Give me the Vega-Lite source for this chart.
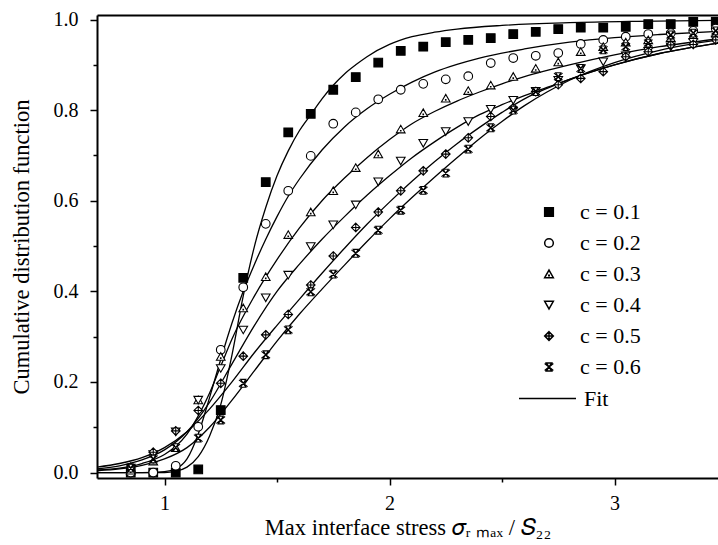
{
 "$schema": "https://vega.github.io/schema/vega-lite/v6.json",
 "width": 621,
 "height": 463,
 "autosize": {"type": "none"},
 "padding": {"left": 97, "top": 15, "right": 0, "bottom": 67},
 "background": "white",
 "config": {
  "font": "Liberation Serif",
  "view": {"stroke": null},
  "axis": {"domainColor": "black", "domainWidth": 2, "tickColor": "black", "tickWidth": 1.5, "labelColor": "black", "titleColor": "black", "labelFont": "Liberation Serif", "titleFont": "Liberation Serif", "labelFontSize": 20, "titleFontSize": 22.5, "titleFontWeight": "normal", "grid": false},
  "legend": {"labelFont": "Liberation Serif", "labelFontSize": 22, "labelColor": "black"}
 },
 "datasets": {
  "pts": [
   {"c":"0.1","x":0.85,"y":0},{"c":"0.1","x":0.95,"y":0},{"c":"0.1","x":1.05,"y":0},{"c":"0.1","x":1.15,"y":0.007},{"c":"0.1","x":1.25,"y":0.138},{"c":"0.1","x":1.35,"y":0.43},{"c":"0.1","x":1.45,"y":0.641},{"c":"0.1","x":1.55,"y":0.751},{"c":"0.1","x":1.65,"y":0.792},{"c":"0.1","x":1.75,"y":0.845},{"c":"0.1","x":1.85,"y":0.873},{"c":"0.1","x":1.95,"y":0.905},{"c":"0.1","x":2.05,"y":0.931},{"c":"0.1","x":2.15,"y":0.94},{"c":"0.1","x":2.25,"y":0.95},{"c":"0.1","x":2.35,"y":0.955},{"c":"0.1","x":2.45,"y":0.959},{"c":"0.1","x":2.55,"y":0.968},{"c":"0.1","x":2.65,"y":0.973},{"c":"0.1","x":2.75,"y":0.979},{"c":"0.1","x":2.85,"y":0.982},{"c":"0.1","x":2.95,"y":0.982},{"c":"0.1","x":3.05,"y":0.984},{"c":"0.1","x":3.15,"y":0.99},{"c":"0.1","x":3.25,"y":0.99},{"c":"0.1","x":3.35,"y":0.995},{"c":"0.1","x":3.45,"y":0.995},
   {"c":"0.2","x":0.85,"y":0},{"c":"0.2","x":0.95,"y":0},{"c":"0.2","x":1.05,"y":0.015},{"c":"0.2","x":1.15,"y":0.101},{"c":"0.2","x":1.25,"y":0.271},{"c":"0.2","x":1.35,"y":0.409},{"c":"0.2","x":1.45,"y":0.549},{"c":"0.2","x":1.55,"y":0.622},{"c":"0.2","x":1.65,"y":0.699},{"c":"0.2","x":1.75,"y":0.77},{"c":"0.2","x":1.85,"y":0.795},{"c":"0.2","x":1.95,"y":0.824},{"c":"0.2","x":2.05,"y":0.845},{"c":"0.2","x":2.15,"y":0.858},{"c":"0.2","x":2.25,"y":0.868},{"c":"0.2","x":2.35,"y":0.875},{"c":"0.2","x":2.45,"y":0.904},{"c":"0.2","x":2.55,"y":0.915},{"c":"0.2","x":2.65,"y":0.92},{"c":"0.2","x":2.75,"y":0.926},{"c":"0.2","x":2.85,"y":0.946},{"c":"0.2","x":2.95,"y":0.955},{"c":"0.2","x":3.05,"y":0.962},{"c":"0.2","x":3.15,"y":0.968},{"c":"0.2","x":3.25,"y":0.97},{"c":"0.2","x":3.35,"y":0.975},{"c":"0.2","x":3.45,"y":0.98},
   {"c":"0.3","x":0.85,"y":0.005},{"c":"0.3","x":0.95,"y":0.025},{"c":"0.3","x":1.05,"y":0.055},{"c":"0.3","x":1.15,"y":0.16},{"c":"0.3","x":1.25,"y":0.256},{"c":"0.3","x":1.35,"y":0.363},{"c":"0.3","x":1.45,"y":0.432},{"c":"0.3","x":1.55,"y":0.525},{"c":"0.3","x":1.65,"y":0.575},{"c":"0.3","x":1.75,"y":0.622},{"c":"0.3","x":1.85,"y":0.673},{"c":"0.3","x":1.95,"y":0.703},{"c":"0.3","x":2.05,"y":0.758},{"c":"0.3","x":2.15,"y":0.794},{"c":"0.3","x":2.25,"y":0.826},{"c":"0.3","x":2.35,"y":0.843},{"c":"0.3","x":2.45,"y":0.855},{"c":"0.3","x":2.55,"y":0.874},{"c":"0.3","x":2.65,"y":0.892},{"c":"0.3","x":2.75,"y":0.906},{"c":"0.3","x":2.85,"y":0.929},{"c":"0.3","x":2.95,"y":0.94},{"c":"0.3","x":3.05,"y":0.95},{"c":"0.3","x":3.15,"y":0.955},{"c":"0.3","x":3.25,"y":0.96},{"c":"0.3","x":3.35,"y":0.965},{"c":"0.3","x":3.45,"y":0.97},
   {"c":"0.4","x":0.85,"y":0.01},{"c":"0.4","x":0.95,"y":0.04},{"c":"0.4","x":1.05,"y":0.09},{"c":"0.4","x":1.15,"y":0.16},{"c":"0.4","x":1.25,"y":0.23},{"c":"0.4","x":1.35,"y":0.315},{"c":"0.4","x":1.45,"y":0.386},{"c":"0.4","x":1.55,"y":0.436},{"c":"0.4","x":1.65,"y":0.499},{"c":"0.4","x":1.75,"y":0.547},{"c":"0.4","x":1.85,"y":0.591},{"c":"0.4","x":1.95,"y":0.642},{"c":"0.4","x":2.05,"y":0.688},{"c":"0.4","x":2.15,"y":0.727},{"c":"0.4","x":2.25,"y":0.753},{"c":"0.4","x":2.35,"y":0.775},{"c":"0.4","x":2.45,"y":0.802},{"c":"0.4","x":2.55,"y":0.822},{"c":"0.4","x":2.65,"y":0.842},{"c":"0.4","x":2.75,"y":0.866},{"c":"0.4","x":2.85,"y":0.892},{"c":"0.4","x":2.95,"y":0.907},{"c":"0.4","x":3.05,"y":0.92},{"c":"0.4","x":3.15,"y":0.93},{"c":"0.4","x":3.25,"y":0.94},{"c":"0.4","x":3.35,"y":0.95},{"c":"0.4","x":3.45,"y":0.955},
   {"c":"0.5","x":0.85,"y":0.012},{"c":"0.5","x":0.95,"y":0.045},{"c":"0.5","x":1.05,"y":0.092},{"c":"0.5","x":1.15,"y":0.137},{"c":"0.5","x":1.25,"y":0.197},{"c":"0.5","x":1.35,"y":0.257},{"c":"0.5","x":1.45,"y":0.304},{"c":"0.5","x":1.55,"y":0.349},{"c":"0.5","x":1.65,"y":0.414},{"c":"0.5","x":1.75,"y":0.478},{"c":"0.5","x":1.85,"y":0.541},{"c":"0.5","x":1.95,"y":0.575},{"c":"0.5","x":2.05,"y":0.622},{"c":"0.5","x":2.15,"y":0.666},{"c":"0.5","x":2.25,"y":0.703},{"c":"0.5","x":2.35,"y":0.739},{"c":"0.5","x":2.45,"y":0.786},{"c":"0.5","x":2.55,"y":0.805},{"c":"0.5","x":2.65,"y":0.841},{"c":"0.5","x":2.75,"y":0.856},{"c":"0.5","x":2.85,"y":0.87},{"c":"0.5","x":2.95,"y":0.885},{"c":"0.5","x":3.05,"y":0.918},{"c":"0.5","x":3.15,"y":0.929},{"c":"0.5","x":3.25,"y":0.944},{"c":"0.5","x":3.35,"y":0.945},{"c":"0.5","x":3.45,"y":0.955},
   {"c":"0.6","x":0.85,"y":0.01},{"c":"0.6","x":0.95,"y":0.03},{"c":"0.6","x":1.05,"y":0.055},{"c":"0.6","x":1.15,"y":0.076},{"c":"0.6","x":1.25,"y":0.116},{"c":"0.6","x":1.35,"y":0.197},{"c":"0.6","x":1.45,"y":0.26},{"c":"0.6","x":1.55,"y":0.315},{"c":"0.6","x":1.65,"y":0.399},{"c":"0.6","x":1.75,"y":0.438},{"c":"0.6","x":1.85,"y":0.484},{"c":"0.6","x":1.95,"y":0.535},{"c":"0.6","x":2.05,"y":0.579},{"c":"0.6","x":2.15,"y":0.623},{"c":"0.6","x":2.25,"y":0.661},{"c":"0.6","x":2.35,"y":0.714},{"c":"0.6","x":2.45,"y":0.761},{"c":"0.6","x":2.55,"y":0.8},{"c":"0.6","x":2.65,"y":0.841},{"c":"0.6","x":2.75,"y":0.874},{"c":"0.6","x":2.85,"y":0.892},{"c":"0.6","x":2.95,"y":0.933},{"c":"0.6","x":3.05,"y":0.94},{"c":"0.6","x":3.15,"y":0.948},{"c":"0.6","x":3.25,"y":0.966},{"c":"0.6","x":3.35,"y":0.97},{"c":"0.6","x":3.45,"y":0.975}
  ],
  "fit": [
   {"c":"0.1","x":0.7,"y":0},{"c":"0.1","x":1.0,"y":0},{"c":"0.1","x":1.05,"y":0.003},{"c":"0.1","x":1.1,"y":0.012},{"c":"0.1","x":1.15,"y":0.035},{"c":"0.1","x":1.2,"y":0.08},{"c":"0.1","x":1.25,"y":0.15},{"c":"0.1","x":1.3,"y":0.26},{"c":"0.1","x":1.35,"y":0.39},{"c":"0.1","x":1.4,"y":0.5},{"c":"0.1","x":1.45,"y":0.585},{"c":"0.1","x":1.5,"y":0.655},{"c":"0.1","x":1.55,"y":0.71},{"c":"0.1","x":1.6,"y":0.755},{"c":"0.1","x":1.65,"y":0.79},{"c":"0.1","x":1.7,"y":0.825},{"c":"0.1","x":1.75,"y":0.855},{"c":"0.1","x":1.8,"y":0.88},{"c":"0.1","x":1.85,"y":0.9},{"c":"0.1","x":1.9,"y":0.918},{"c":"0.1","x":2.0,"y":0.945},{"c":"0.1","x":2.1,"y":0.962},{"c":"0.1","x":2.2,"y":0.972},{"c":"0.1","x":2.3,"y":0.979},{"c":"0.1","x":2.5,"y":0.987},{"c":"0.1","x":2.8,"y":0.993},{"c":"0.1","x":3.1,"y":0.996},{"c":"0.1","x":3.46,"y":0.998},
   {"c":"0.2","x":0.7,"y":0},{"c":"0.2","x":0.9,"y":0},{"c":"0.2","x":1.0,"y":0.002},{"c":"0.2","x":1.05,"y":0.008},{"c":"0.2","x":1.1,"y":0.03},{"c":"0.2","x":1.15,"y":0.085},{"c":"0.2","x":1.2,"y":0.165},{"c":"0.2","x":1.25,"y":0.25},{"c":"0.2","x":1.3,"y":0.33},{"c":"0.2","x":1.35,"y":0.4},{"c":"0.2","x":1.4,"y":0.46},{"c":"0.2","x":1.45,"y":0.515},{"c":"0.2","x":1.5,"y":0.565},{"c":"0.2","x":1.55,"y":0.61},{"c":"0.2","x":1.6,"y":0.648},{"c":"0.2","x":1.7,"y":0.712},{"c":"0.2","x":1.8,"y":0.763},{"c":"0.2","x":1.9,"y":0.803},{"c":"0.2","x":2.0,"y":0.835},{"c":"0.2","x":2.1,"y":0.862},{"c":"0.2","x":2.2,"y":0.884},{"c":"0.2","x":2.3,"y":0.901},{"c":"0.2","x":2.4,"y":0.915},{"c":"0.2","x":2.6,"y":0.935},{"c":"0.2","x":2.8,"y":0.95},{"c":"0.2","x":3.0,"y":0.96},{"c":"0.2","x":3.2,"y":0.967},{"c":"0.2","x":3.46,"y":0.974},
   {"c":"0.3","x":0.7,"y":0.006},{"c":"0.3","x":0.8,"y":0.01},{"c":"0.3","x":0.9,"y":0.02},{"c":"0.3","x":1.0,"y":0.04},{"c":"0.3","x":1.05,"y":0.058},{"c":"0.3","x":1.1,"y":0.085},{"c":"0.3","x":1.15,"y":0.125},{"c":"0.3","x":1.2,"y":0.175},{"c":"0.3","x":1.25,"y":0.235},{"c":"0.3","x":1.3,"y":0.295},{"c":"0.3","x":1.4,"y":0.39},{"c":"0.3","x":1.5,"y":0.47},{"c":"0.3","x":1.6,"y":0.54},{"c":"0.3","x":1.7,"y":0.6},{"c":"0.3","x":1.8,"y":0.65},{"c":"0.3","x":1.9,"y":0.695},{"c":"0.3","x":2.0,"y":0.735},{"c":"0.3","x":2.1,"y":0.77},{"c":"0.3","x":2.2,"y":0.797},{"c":"0.3","x":2.3,"y":0.82},{"c":"0.3","x":2.4,"y":0.84},{"c":"0.3","x":2.5,"y":0.858},{"c":"0.3","x":2.6,"y":0.874},{"c":"0.3","x":2.8,"y":0.9},{"c":"0.3","x":3.0,"y":0.922},{"c":"0.3","x":3.2,"y":0.94},{"c":"0.3","x":3.46,"y":0.957},
   {"c":"0.4","x":0.7,"y":0.008},{"c":"0.4","x":0.8,"y":0.015},{"c":"0.4","x":0.9,"y":0.028},{"c":"0.4","x":1.0,"y":0.05},{"c":"0.4","x":1.1,"y":0.09},{"c":"0.4","x":1.2,"y":0.155},{"c":"0.4","x":1.3,"y":0.24},{"c":"0.4","x":1.4,"y":0.325},{"c":"0.4","x":1.5,"y":0.4},{"c":"0.4","x":1.6,"y":0.46},{"c":"0.4","x":1.7,"y":0.515},{"c":"0.4","x":1.8,"y":0.565},{"c":"0.4","x":1.9,"y":0.612},{"c":"0.4","x":2.0,"y":0.655},{"c":"0.4","x":2.1,"y":0.695},{"c":"0.4","x":2.2,"y":0.73},{"c":"0.4","x":2.3,"y":0.762},{"c":"0.4","x":2.4,"y":0.79},{"c":"0.4","x":2.5,"y":0.812},{"c":"0.4","x":2.6,"y":0.832},{"c":"0.4","x":2.7,"y":0.85},{"c":"0.4","x":2.8,"y":0.868},{"c":"0.4","x":3.0,"y":0.9},{"c":"0.4","x":3.2,"y":0.925},{"c":"0.4","x":3.46,"y":0.948},
   {"c":"0.5","x":0.7,"y":0.012},{"c":"0.5","x":0.8,"y":0.02},{"c":"0.5","x":0.9,"y":0.033},{"c":"0.5","x":1.0,"y":0.055},{"c":"0.5","x":1.1,"y":0.09},{"c":"0.5","x":1.2,"y":0.14},{"c":"0.5","x":1.3,"y":0.2},{"c":"0.5","x":1.4,"y":0.265},{"c":"0.5","x":1.5,"y":0.325},{"c":"0.5","x":1.6,"y":0.383},{"c":"0.5","x":1.7,"y":0.44},{"c":"0.5","x":1.8,"y":0.495},{"c":"0.5","x":1.9,"y":0.548},{"c":"0.5","x":2.0,"y":0.597},{"c":"0.5","x":2.1,"y":0.643},{"c":"0.5","x":2.2,"y":0.686},{"c":"0.5","x":2.3,"y":0.726},{"c":"0.5","x":2.4,"y":0.762},{"c":"0.5","x":2.5,"y":0.795},{"c":"0.5","x":2.6,"y":0.825},{"c":"0.5","x":2.7,"y":0.848},{"c":"0.5","x":2.8,"y":0.868},{"c":"0.5","x":3.0,"y":0.9},{"c":"0.5","x":3.2,"y":0.925},{"c":"0.5","x":3.46,"y":0.948},
   {"c":"0.6","x":0.7,"y":0.004},{"c":"0.6","x":0.8,"y":0.008},{"c":"0.6","x":0.9,"y":0.016},{"c":"0.6","x":1.0,"y":0.03},{"c":"0.6","x":1.1,"y":0.055},{"c":"0.6","x":1.2,"y":0.1},{"c":"0.6","x":1.3,"y":0.16},{"c":"0.6","x":1.4,"y":0.225},{"c":"0.6","x":1.5,"y":0.29},{"c":"0.6","x":1.6,"y":0.35},{"c":"0.6","x":1.7,"y":0.405},{"c":"0.6","x":1.8,"y":0.458},{"c":"0.6","x":1.9,"y":0.51},{"c":"0.6","x":2.0,"y":0.56},{"c":"0.6","x":2.1,"y":0.607},{"c":"0.6","x":2.2,"y":0.652},{"c":"0.6","x":2.3,"y":0.695},{"c":"0.6","x":2.4,"y":0.737},{"c":"0.6","x":2.5,"y":0.775},{"c":"0.6","x":2.6,"y":0.81},{"c":"0.6","x":2.7,"y":0.84},{"c":"0.6","x":2.8,"y":0.866},{"c":"0.6","x":3.0,"y":0.905},{"c":"0.6","x":3.2,"y":0.932},{"c":"0.6","x":3.46,"y":0.955}
  ]
 },
 "layer": [
  {
   "data": {"name": "fit"},
   "mark": {"type": "line", "interpolate": "monotone", "strokeWidth": 1.3, "clip": true},
   "encoding": {
    "x": {"field": "x", "type": "quantitative", "scale": {"domain": [0.7, 3.46], "nice": false, "zero": false},
          "axis": {"orient": "top", "labels": false, "ticks": false, "title": null, "domain": true}},
    "y": {"field": "y", "type": "quantitative", "scale": {"domain": [-0.012, 1.01], "nice": false, "zero": false},
          "axis": {"values": [0, 0.1, 0.2, 0.3, 0.4, 0.5, 0.6, 0.7, 0.8, 0.9, 1.0],
                   "labelExpr": "round(datum.value*10)%2==0 ? format(datum.value,'.1f') : ''",
                   "tickSize": {"condition": {"test": "round(datum.value*10)%2==0", "value": 7}, "value": 4},
                   "labelPadding": 12, "title": "Cumulative distribution function", "titlePadding": 20}},
    "detail": {"field": "c", "type": "nominal"},
    "stroke": {"datum": "Fit", "type": "nominal", "scale": {"range": ["black"]},
               "legend": {"title": null, "orient": "none", "legendX": 421, "legendY": 354, "symbolType": "stroke", "symbolSize": 3249, "symbolStrokeWidth": 1.3, "labelOffset": 7, "padding": 0, "symbolOffset": 0}}
   }
  },
  {
   "data": {"name": "pts"},
   "mark": {"type": "point", "filled": false, "stroke": "black", "strokeWidth": 1.1, "size": 75, "opacity": 1},
   "encoding": {
    "x": {"field": "x", "type": "quantitative",
          "axis": {"orient": "bottom", "values": [1, 1.5, 2, 2.5, 3],
                   "labelExpr": "datum.value % 1 == 0 ? format(datum.value,'d') : ''",
                   "tickSize": {"condition": {"test": "datum.value % 1 == 0", "value": 7}, "value": 4},
                   "labelPadding": 8, "title": "Max interface stress 𝜎ᵣ ₘₐₓ / 𝑆₂₂", "titlePadding": 3}},
    "y": {"field": "y", "type": "quantitative",
          "axis": {"values": [0, 0.1, 0.2, 0.3, 0.4, 0.5, 0.6, 0.7, 0.8, 0.9, 1.0],
                   "labelExpr": "round(datum.value*10)%2==0 ? format(datum.value,'.1f') : ''",
                   "tickSize": {"condition": {"test": "round(datum.value*10)%2==0", "value": 7}, "value": 4},
                   "labelPadding": 12, "title": "Cumulative distribution function", "titlePadding": 20}},
    "shape": {"field": "c", "type": "nominal",
              "scale": {"domain": ["0.1", "0.2", "0.3", "0.4", "0.5", "0.6"],
                        "range": ["square", "circle",
                                  "M-1,0.85L0,-0.9L1,0.85Z M-0.06,0.3L0.06,0.3L0.06,0.42L-0.06,0.42Z",
                                  "M-1,-0.85L1,-0.85L0,0.9Z",
                                  "M0,-1L1,0L0,1L-1,0Z M0,-1.1L0,1.1 M-1.1,0L1.1,0",
                                  "M-0.6,-0.9L0.6,-0.9L-0.6,0.9L0.6,0.9Z M-1,-0.8L1,0.8 M-1,0.8L1,-0.8"]},
              "legend": {"title": null, "orient": "none", "legendX": 441, "legendY": 186, "labelExpr": "'c = ' + datum.label", "labelOffset": 20, "padding": 0, "symbolOffset": 0, "rowPadding": 9, "symbolSize": 75,
                         "encode": {"symbols": {"update": {"stroke": {"value": "black"}, "strokeWidth": {"value": 1.1}, "opacity": {"value": 1}}}}}},
    "fill": {"field": "c", "type": "nominal",
             "scale": {"domain": ["0.1", "0.2", "0.3", "0.4", "0.5", "0.6"], "range": ["black", "white", "white", "white", "white", "white"]},
             "legend": {"title": null, "orient": "none", "legendX": 441, "legendY": 186, "labelExpr": "'c = ' + datum.label", "labelOffset": 20, "padding": 0, "symbolOffset": 0, "rowPadding": 9, "symbolSize": 75,
                        "encode": {"symbols": {"update": {"stroke": {"value": "black"}, "strokeWidth": {"value": 1.1}, "opacity": {"value": 1}}}}}}
   }
  }
 ],
 "resolve": {"axis": {"x": "independent"}}
}
